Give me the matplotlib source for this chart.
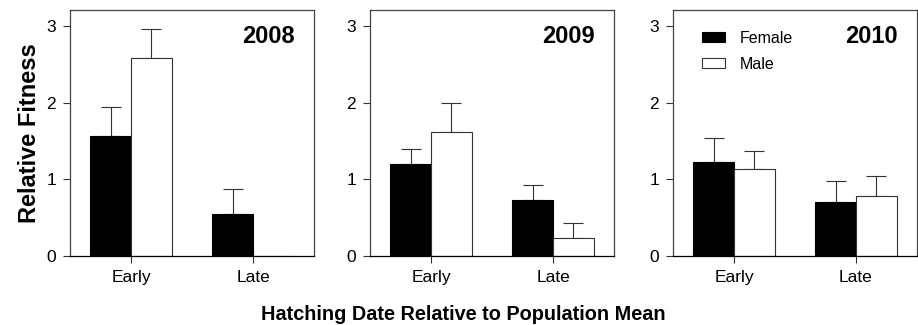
import numpy as np
import matplotlib
matplotlib.use("Agg")
import matplotlib.pyplot as plt

plt.rcParams["font.family"] = ["Liberation Sans", "DejaVu Sans"]

years = ["2008", "2009", "2010"]
timing = ["Early", "Late"]
female = [[1.56, 0.55], [1.20, 0.73], [1.23, 0.71]]
female_err = [[0.38, 0.33], [0.19, 0.19], [0.31, 0.27]]
male = [[2.59, 0.0], [1.62, 0.24], [1.13, 0.78]]
male_err = [[0.37, 0.0], [0.37, 0.19], [0.24, 0.26]]

fig = plt.figure(figsize=(9.18, 3.25), dpi=100)
lefts = [70, 370, 673]
W, H = 918, 325
bw = 0.335
x = np.arange(len(timing))

for i, yr in enumerate(years):
    ax = fig.add_axes([lefts[i] / W, 1 - 256 / H, 244 / W, 246 / H])
    ax.bar(x - bw / 2, female[i], bw, color="black", edgecolor="black",
           linewidth=0.8, label="Female", zorder=2)
    ax.bar(x + bw / 2, male[i], bw, color="white", edgecolor="#333333",
           linewidth=0.8, label="Male", zorder=2)
    fe = np.array(female_err[i])
    me = np.array(male_err[i])
    ax.errorbar(x - bw / 2, female[i], yerr=[np.zeros_like(fe), fe], fmt="none",
                ecolor="#333333", elinewidth=0.8, capsize=7.5, capthick=0.8, zorder=1)
    mask = me > 0
    ax.errorbar((x + bw / 2)[mask], np.array(male[i])[mask],
                yerr=[np.zeros(mask.sum()), me[mask]], fmt="none",
                ecolor="#333333", elinewidth=0.8, capsize=7.5, capthick=0.8, zorder=1)
    ax.set_xlim(-0.5, 1.5)
    ax.set_ylim(0, 3.21)
    ax.set_yticks([0, 1, 2, 3])
    ax.set_xticks(x)
    ax.set_xticklabels(timing)
    ax.tick_params(direction="out", length=5, width=0.8, labelsize=12.5,
                   color="#333333", pad=5)
    for side in ["left", "top", "right"]:
        ax.spines[side].set_color("#444444")
        ax.spines[side].set_linewidth(0.9)
    ax.spines["bottom"].set_color("black")
    ax.spines["bottom"].set_linewidth(0.9)
    ax.text(0.92, 0.891, yr, transform=ax.transAxes, ha="right", va="center",
            fontsize=17, fontweight="bold")
    if i == 0:
        ax.set_ylabel("Relative Fitness", fontsize=17, fontweight="bold", labelpad=4)
    if i == 2:
        ax.legend(loc="upper left", bbox_to_anchor=(0.06, 0.975), frameon=False,
                  fontsize=11.5, handlelength=1.45, handleheight=0.55,
                  handletextpad=0.9, labelspacing=0.7)

fig.text(463 / W, 1 - 314 / H, "Hatching Date Relative to Population Mean",
         ha="center", va="center", fontsize=14.3, fontweight="bold")

fig.savefig("out.png", dpi=100)
